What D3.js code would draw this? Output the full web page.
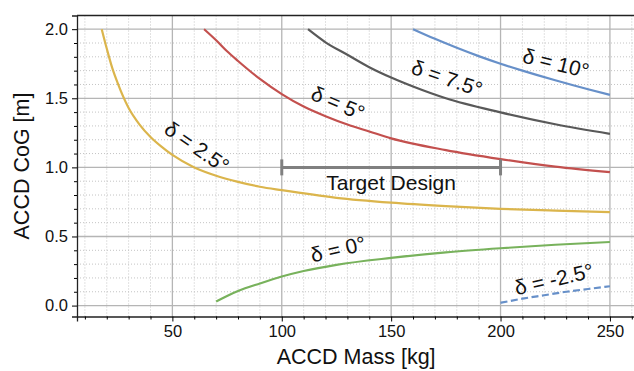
<!DOCTYPE html>
<html><head><meta charset="utf-8">
<script src="https://cdn.jsdelivr.net/npm/d3@7"></script>
<style>
body{margin:0;background:#fff;}
text{font-family:"Liberation Sans",Arial,Helvetica,sans-serif;fill:#111;}
</style></head>
<body><svg id="c" width="634" height="371"></svg>
<script>
// Data: [mass kg, CoG m]
const delta25 = [[17.7,2.0],[20,1.86],[22.5,1.72],[25,1.61],[30,1.43],[35,1.31],[40,1.22],[45,1.15],[50,1.09],[60,1.0],[70,0.94],[80,0.895],[90,0.86],[100,0.835],[125,0.78],[150,0.745],[175,0.72],[200,0.70],[225,0.687],[250,0.676]];
const delta5 = [[64.5,2.0],[70,1.92],[75,1.84],[80,1.77],[90,1.64],[100,1.53],[110,1.44],[120,1.37],[130,1.31],[140,1.26],[150,1.21],[175,1.125],[200,1.06],[225,1.005],[250,0.965]];
const delta75 = [[112,2.0],[120,1.905],[130,1.815],[140,1.725],[150,1.65],[160,1.585],[175,1.50],[200,1.398],[225,1.312],[250,1.243]];
const delta10 = [[160,2.0],[170,1.93],[180,1.865],[190,1.805],[200,1.75],[210,1.70],[225,1.63],[240,1.565],[250,1.525]];
const delta0 = [[70,0.03],[75,0.07],[80,0.105],[90,0.16],[100,0.21],[110,0.25],[125,0.295],[150,0.345],[175,0.385],[200,0.415],[225,0.44],[250,0.46]];
const deltaNeg25 = [[200,0.02],[210,0.05],[220,0.075],[230,0.10],[240,0.12],[250,0.14]];
const xTicks = [50,100,150,200,250];
const yTicks = [0.0,0.5,1.0,1.5,2.0];
const target = {x0:100, x1:200, y:1.0, label:"Target Design"};

const series = [
  {data:delta25, color:"#dbb54c", dash:null, label:"δ = 2.5°", lx:197, ly:147, rot:35},
  {data:delta5, color:"#c3504e", dash:null, label:"δ = 5°", lx:338, ly:103, rot:23},
  {data:delta75, color:"#595959", dash:null, label:"δ = 7.5°", lx:447, ly:78, rot:19},
  {data:delta10, color:"#6790c9", dash:null, label:"δ = 10°", lx:556, ly:63, rot:14},
  {data:delta0, color:"#78b25c", dash:null, label:"δ = 0°", lx:338, ly:249, rot:-13},
  {data:deltaNeg25, color:"#6790c9", dash:"7,3.5", label:"δ = -2.5°", lx:554, ly:279, rot:-13}
];

const svg = d3.select("#c");
const L=77, T=15.5, W=558.3, H=301;
const x = d3.scaleLinear().domain([6.4,261.6]).range([L,L+W]);
const y = d3.scaleLinear().domain([-0.079,2.099]).range([T+H,T]);

const g = svg.append("g");
// minor grid
const xMinor = d3.range(10,261,10).filter(v=>v%50!==0);
const yMinor = d3.range(0,21,1).map(v=>v/10).filter(v=>Math.round(v*10)%5!==0);
g.selectAll(".mx").data(xMinor).join("line").attr("x1",d=>x(d)).attr("x2",d=>x(d)).attr("y1",T).attr("y2",T+H)
 .attr("stroke","#c4c4c4").attr("stroke-width",1).attr("stroke-dasharray","1,2");
g.selectAll(".my").data(yMinor).join("line").attr("y1",d=>y(d)).attr("y2",d=>y(d)).attr("x1",L).attr("x2",L+W)
 .attr("stroke","#c4c4c4").attr("stroke-width",1).attr("stroke-dasharray","1,2");
// major grid
g.selectAll(".Mx").data(xTicks).join("line").attr("x1",d=>x(d)).attr("x2",d=>x(d)).attr("y1",T).attr("y2",T+H)
 .attr("stroke","#b5b5b5").attr("stroke-width",1.3);
g.selectAll(".My").data(yTicks).join("line").attr("y1",d=>y(d)).attr("y2",d=>y(d)).attr("x1",L).attr("x2",L+W)
 .attr("stroke","#b5b5b5").attr("stroke-width",1.3);

// curves
const line = d3.line().x(d=>x(d[0])).y(d=>y(d[1])).curve(d3.curveMonotoneX);
series.forEach(s=>{
  g.append("path").datum(s.data).attr("d",line).attr("fill","none")
   .attr("stroke",s.color).attr("stroke-width",2.2)
   .attr("stroke-dasharray",s.dash);
});

// target design bar
const tc = "#808080";
g.append("line").attr("x1",x(target.x0)).attr("x2",x(target.x1)).attr("y1",y(target.y)).attr("y2",y(target.y))
 .attr("stroke",tc).attr("stroke-width",3);
[target.x0,target.x1].forEach(v=>{
  g.append("line").attr("x1",x(v)).attr("x2",x(v)).attr("y1",y(target.y)-8).attr("y2",y(target.y)+8)
   .attr("stroke",tc).attr("stroke-width",3);
});
g.append("text").attr("x",x((target.x0+target.x1)/2)).attr("y",y(target.y)+23)
 .attr("text-anchor","middle").attr("font-size",21).text(target.label);

// labels
series.forEach(s=>{
  g.append("text").attr("transform",`translate(${s.lx},${s.ly}) rotate(${s.rot})`)
   .attr("text-anchor","middle").attr("dominant-baseline","central")
   .attr("font-size",21).text(s.label);
});

// axes
const xAxis = d3.axisBottom(x).tickValues(xTicks).tickSize(5).tickPadding(4).tickFormat(d3.format("d"));
const ax = svg.append("g").attr("transform",`translate(0,${T+H})`).call(xAxis);
ax.select(".domain").attr("stroke","#222").attr("stroke-width",1.3);
ax.selectAll("text").attr("font-size",16.5).style("fill","#111");
svg.append("g").attr("transform",`translate(0,${T+H})`)
  .call(d3.axisBottom(x).tickValues(xMinor).tickSize(3).tickFormat(""))
  .call(s=>s.select(".domain").remove());
const yAxis = d3.axisLeft(y).tickValues(yTicks).tickSize(5).tickPadding(4).tickFormat(d3.format(".1f"));
const ay = svg.append("g").attr("transform",`translate(${L},0)`).call(yAxis);
ay.select(".domain").attr("stroke","#222").attr("stroke-width",1.3);
ay.selectAll("text").attr("font-size",16.5).style("fill","#111");
svg.append("g").attr("transform",`translate(${L},0)`)
  .call(d3.axisLeft(y).tickValues(yMinor).tickSize(3).tickFormat(""))
  .call(s=>s.select(".domain").remove());
// spines
svg.append("line").attr("x1",L).attr("x2",L+W).attr("y1",T).attr("y2",T).attr("stroke","#222").attr("stroke-width",1.3);
svg.append("line").attr("x1",L+W).attr("x2",L+W).attr("y1",T).attr("y2",T+H).attr("stroke","#222").attr("stroke-width",1.3);

// axis titles
svg.append("text").attr("x",x(134)).attr("y",364).attr("text-anchor","middle").attr("font-size",21.5).text("ACCD Mass [kg]");
svg.append("text").attr("transform",`translate(29,${T+H/2}) rotate(-90)`).attr("text-anchor","middle").attr("font-size",21.5).text("ACCD CoG [m]");
</script></body></html>
